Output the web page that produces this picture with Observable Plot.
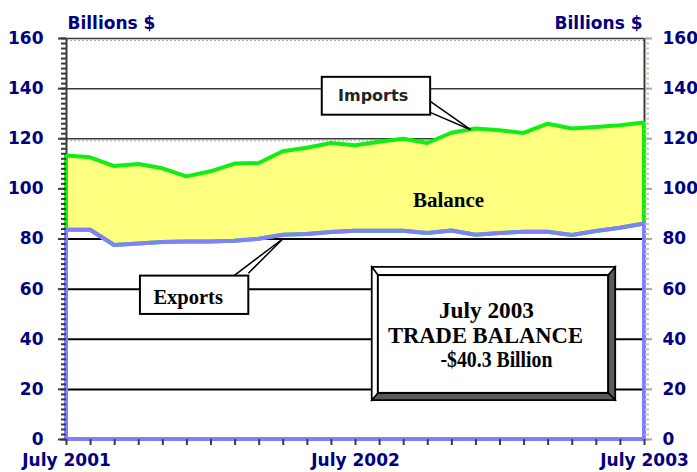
<!DOCTYPE html>
<html>
<head>
<meta charset="utf-8">
<script src="https://cdn.jsdelivr.net/npm/d3@7"></script>
<script src="https://cdn.jsdelivr.net/npm/@observablehq/plot@0.6"></script>
<style>
  html, body { margin: 0; padding: 0; background: #fff; }
  #chart { width: 697px; height: 472px; }
</style>
</head>
<body>
<div id="chart"></div>
<script>
// ---- Data (billions of dollars, monthly) ----
const months = ["Jul 2001","Aug 2001","Sep 2001","Oct 2001","Nov 2001","Dec 2001",
  "Jan 2002","Feb 2002","Mar 2002","Apr 2002","May 2002","Jun 2002",
  "Jul 2002","Aug 2002","Sep 2002","Oct 2002","Nov 2002","Dec 2002",
  "Jan 2003","Feb 2003","Mar 2003","Apr 2003","May 2003","Jun 2003","Jul 2003"];
const imports = [113.1, 112.4, 108.9, 109.7, 108.0, 104.8, 106.8, 109.9, 110.1, 114.8, 116.2, 118.1,
  117.2, 118.6, 119.8, 118.1, 122.2, 123.9, 123.2, 122.1, 125.8, 123.9, 124.5, 125.2, 126.3];
const exports = [83.5, 83.5, 77.4, 78.0, 78.6, 78.8, 78.8, 79.1, 79.9, 81.5, 81.8, 82.6,
  83.1, 83.1, 83.1, 82.2, 83.2, 81.5, 82.2, 82.7, 82.7, 81.4, 83.0, 84.3, 86.0];
const xTickMonths = ["Jul 2001", "Jul 2002", "Jul 2003"];
const xTickLabels = ["July 2001", "July 2002", "July 2003"];
const yTicks = [0, 20, 40, 60, 80, 100, 120, 140, 160];
const yMinorTicks = d3.range(0, 161, 2);
const axisTitle = "Billions $";
const boxLines = ["July 2003", "TRADE BALANCE", "-$40.3 Billion"];

const data = months.map((m, i) => ({i, month: m, imports: imports[i], exports: exports[i]}));
const tickIndex = xTickMonths.map(m => months.indexOf(m));
const last = months.length - 1;

const NAVY = "#000080";
const SERIF = "'Liberation Serif', 'Times New Roman', serif";

// Custom bevelled summary box (anchored in data coordinates)
function tradeBox(index, scales) {
  const X = scales.x, Y = scales.y;
  const x0 = X(12.70), x1 = X(22.80), y0 = Y(68.6), y1 = Y(15.6);
  const l = 6, t = 8, r = 7, b = 7;
  const g = d3.create("svg:g");
  g.append("rect").attr("x", x0).attr("y", y0).attr("width", x1 - x0).attr("height", y1 - y0)
    .attr("fill", "#fff").attr("stroke", "#000").attr("stroke-width", 2);
  const poly = (pts, fill) => g.append("polygon").attr("points", pts.map(p => p.join(",")).join(" "))
    .attr("fill", fill).attr("stroke", "#000").attr("stroke-width", 1.5).attr("stroke-linejoin", "miter");
  poly([[x1, y0], [x1, y1], [x1 - r, y1 - b], [x1 - r, y0 + t]], "#5a5a5a");
  poly([[x0, y1], [x1, y1], [x1 - r, y1 - b], [x0 + l, y1 - b]], "#5a5a5a");
  poly([[x0, y0], [x1, y0], [x1 - r, y0 + t], [x0 + l, y0 + t]], "#fff");
  poly([[x0, y0], [x0 + l, y0 + t], [x0 + l, y1 - b], [x0, y1]], "#fff");
  g.append("rect").attr("x", x0 + l).attr("y", y0 + t).attr("width", x1 - x0 - l - r).attr("height", y1 - y0 - t - b)
    .attr("fill", "#fff").attr("stroke", "#000").attr("stroke-width", 2);
  const cx = (x0 + x1) / 2 - 5;
  const lens = [95, 195, 112];
  const dxs = [-2, -3, 8];
  boxLines.forEach((s, k) => {
    g.append("text").attr("x", cx + dxs[k]).attr("y", y0 + 51 + k * 24.5)
      .attr("text-anchor", "middle").attr("font-family", SERIF).attr("font-weight", "bold")
      .attr("font-size", 23).attr("fill", "#000")
      .attr("textLength", lens[k]).attr("lengthAdjust", "spacingAndGlyphs")
      .text(s);
  });
  return g.node();
}

const chart = Plot.plot({
  width: 697,
  height: 472,
  marginLeft: 66,
  marginRight: 53,
  marginTop: 38,
  marginBottom: 33,
  style: {fontFamily: "'DejaVu Sans', sans-serif", fontWeight: "bold", fontSize: "17px", background: "#fff", overflow: "visible"},
  x: {domain: [0, last], axis: null, label: null},
  y: {domain: [0, 160], axis: null, label: null},
  marks: [
    // grid
    Plot.ruleY([20, 40, 60, 80, 100], {stroke: "#000", strokeWidth: 2}),
    Plot.ruleY([120, 140], {stroke: "#3a3a3a", strokeWidth: 1.5}),
    Plot.ruleY([120], {stroke: "#aaa", strokeDasharray: "2,2", dy: 2}),
    Plot.ruleY([160], {stroke: "#3a3a3a", strokeWidth: 1.5}),
    Plot.ruleY([160], {stroke: "#aaa", strokeDasharray: "2,2", dy: 2}),
    // axis lines
    Plot.ruleX([0, last], {stroke: "#3a3a3a", strokeWidth: 2}),
    // balance area (imports over exports)
    Plot.areaY(data, {x: "i", y1: "exports", y2: "imports", fill: "#ffff80", stroke: "#11ee11", strokeWidth: 4}),
    // exports area outline
    Plot.areaY(data, {x: "i", y1: 0, y2: "exports", fill: "none", stroke: "#8080ff", strokeWidth: 4}),
    // left axis ticks
    Plot.axisY(yMinorTicks, {anchor: "left", tickSize: 5, tickFormat: () => "", stroke: "#3a3a3a", strokeWidth: 2, label: null}),
    Plot.axisY(yTicks, {anchor: "left", tickSize: 8, tickFormat: () => "", stroke: "#3a3a3a", strokeWidth: 2, label: null}),
    Plot.axisY(yTicks, {anchor: "left", tickSize: 0, tickPadding: 23, color: NAVY, fill: NAVY, label: null}),
    // right axis ticks
    Plot.axisY(yMinorTicks, {anchor: "right", tickSize: 4, tickFormat: () => "", stroke: "#c8c8b4", strokeWidth: 2, label: null}),
    Plot.axisY(yTicks, {anchor: "right", tickSize: 7, tickFormat: () => "", stroke: "#a8a898", strokeWidth: 2, label: null}),
    Plot.axisY(yTicks, {anchor: "right", tickSize: 0, tickPadding: 18, color: NAVY, fill: NAVY, label: null}),
    // bottom axis
    Plot.axisX(d3.range(0, months.length), {anchor: "bottom", tickSize: 6, tickFormat: () => "", stroke: "#3a3a3a", strokeWidth: 2, label: null}),
    Plot.axisX(tickIndex, {anchor: "bottom", tickSize: 0, tickPadding: 14, tickFormat: (d) => xTickLabels[tickIndex.indexOf(d)], color: NAVY, fill: NAVY, label: null}),
    // axis titles
    Plot.text([axisTitle], {frameAnchor: "top-left", textAnchor: "start", lineAnchor: "bottom", dx: 1, dy: -10, fill: NAVY}),
    Plot.text([axisTitle], {frameAnchor: "top-right", textAnchor: "end", lineAnchor: "bottom", dx: -2, dy: -10, fill: NAVY}),
    // Balance label
    Plot.text(["Balance"], {x: 15.86, y: 95.5, fontFamily: SERIF, fontWeight: "bold", fontSize: 21, fill: "#000"}),
    // Imports callout
    Plot.link([{x1: 15.12, y1: 134.8, x2: 16.78, y2: 123.6}, {x1: 15.12, y1: 130.4, x2: 16.78, y2: 123.6}],
      {x1: "x1", y1: "y1", x2: "x2", y2: "y2", stroke: "#000", strokeWidth: 1.5}),
    Plot.rect([0], {x1: 10.62, x2: 15.12, y1: 129.4, y2: 144.5, fill: "#fff", stroke: "#000", strokeWidth: 2}),
    Plot.text(["Imports"], {x: 12.73, y: 137.2, fontFamily: "'DejaVu Sans', sans-serif", fontWeight: "bold", fontSize: 16, fill: "#222"}),
    // Exports callout
    Plot.link([{x1: 6.93, y1: 65.2, x2: 9.01, y2: 80.3}, {x1: 7.55, y1: 66.3, x2: 9.01, y2: 80.3}],
      {x1: "x1", y1: "y1", x2: "x2", y2: "y2", stroke: "#000", strokeWidth: 1.5}),
    Plot.rect([0], {x1: 3.07, x2: 7.57, y1: 49.9, y2: 65.2, fill: "#fff", stroke: "#000", strokeWidth: 2}),
    Plot.text(["Exports"], {x: 5.05, y: 56.8, fontFamily: SERIF, fontWeight: "bold", fontSize: 20.5, fill: "#000"}),
    // Trade balance box
    tradeBox
  ]
});
document.getElementById("chart").appendChild(chart);
</script>
</body>
</html>
